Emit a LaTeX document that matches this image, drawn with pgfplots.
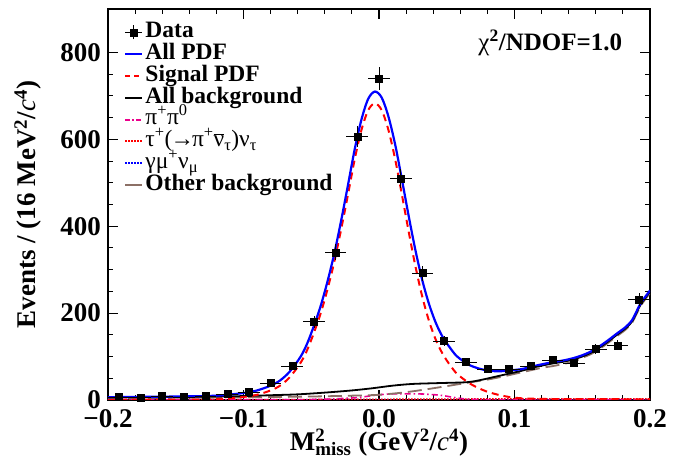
\documentclass[border=0pt]{standalone}
\usepackage{fontspec}
\setmainfont{Liberation Serif}
\usepackage{pgfplots}
\pgfplotsset{compat=1.18}

\definecolor{rootbrown}{rgb}{0.55,0.44,0.40}

% data: bin centre, events, half bin width, sqrt(N)
\pgfplotstableread{
x y ex ey
-0.192 7 0.008 2.6
-0.176 5 0.008 2.2
-0.160 9 0.008 3.0
-0.144 7 0.008 2.6
-0.128 9 0.008 3.0
-0.112 14 0.008 3.7
-0.096 18 0.008 4.2
-0.080 39 0.008 6.2
-0.064 78 0.008 8.8
-0.048 180 0.008 13.4
-0.032 340 0.008 18.4
-0.016 607 0.008 24.6
0.000 740 0.008 27.2
0.016 510 0.008 22.6
0.032 292 0.008 17.1
0.048 136 0.008 11.7
0.064 87 0.008 9.3
0.080 71 0.008 8.4
0.096 71 0.008 8.4
0.112 78 0.008 8.8
0.128 92 0.008 9.6
0.144 85 0.008 9.2
0.160 117 0.008 10.8
0.176 126 0.008 11.2
0.192 232 0.008 15.2
}\datatab

\pgfplotstableread{
x y
-0.200 6.5
-0.150 8
-0.120 10
-0.100 16
-0.090 22
-0.080 33
-0.073 45
-0.066 65
-0.058 99
-0.053 130
-0.048 171
-0.043 217
-0.038 273
-0.033 337
-0.028 412
-0.023 493
-0.018 576
-0.013 645
-0.008 693
-0.003 710
0.002 696
0.007 652
0.012 587
0.017 506
0.022 422
0.027 343
0.032 275
0.037 220
0.042 177
0.047 145
0.052 122
0.057 102
0.062 90
0.067 80
0.073 73
0.080 68
0.088 66
0.096 68
0.105 71
0.113 77
0.120 82
0.128 87
0.136 91
0.143 96
0.150 103
0.156 111
0.161 120
0.168 135
0.176 154
0.182 168
0.187 185
0.193 222
0.200 252
}\allpdf

\pgfplotstableread{
x y
-0.200 0.5
-0.150 0.8
-0.130 1.2
-0.120 2
-0.110 4
-0.100 7
-0.090 12
-0.080 22
-0.073 33
-0.066 52
-0.058 85
-0.053 115
-0.048 155
-0.043 200
-0.038 255
-0.033 318
-0.028 392
-0.023 471
-0.018 553
-0.013 621
-0.008 667
-0.003 683
0.002 667
0.007 621
0.012 553
0.017 471
0.022 386
0.027 306
0.032 237
0.037 181
0.042 138
0.047 106
0.052 82
0.057 62
0.062 49
0.067 38
0.073 28
0.080 19
0.088 12
0.096 7
0.105 4
0.120 2.5
0.150 2
0.200 1.5
}\sigpdf

\pgfplotstableread{
x y
-0.200 6
-0.150 7
-0.100 9
-0.080 11
-0.060 13
-0.040 17
-0.020 22
-0.005 27
0.010 33
0.025 37
0.045 39
0.065 41
0.075 46
0.085 53
0.095 60
0.105 67
0.113 74
0.120 79
0.128 84
0.136 88
0.143 93
0.150 100
0.156 108
0.161 117
0.168 132
0.176 151
0.182 165
0.187 182
0.193 219
0.200 249
}\allbkg

\pgfplotstableread{
x y
-0.200 4
-0.150 5
-0.100 6
-0.050 8
-0.020 10
0.000 12
0.020 18
0.040 27
0.060 37
0.080 47
0.090 53
0.100 60
0.110 67
0.120 74
0.130 79
0.143 88
0.150 97
0.156 105
0.161 114
0.168 129
0.176 148
0.182 162
0.187 179
0.193 216
0.200 246
}\otherbkg

\pgfplotstableread{
x y
-0.200 0.5
-0.080 0.5
-0.050 1
-0.030 3
-0.015 6
0.000 12
0.010 14
0.030 14
0.045 11
0.055 6
0.065 2
0.080 1
0.200 0.5
}\pipizero

\pgfplotstableread{
x y
-0.200 0.5
-0.100 0.8
-0.050 1
0.000 1.5
0.050 2
0.100 2.5
0.150 2.5
0.200 2.5
}\taunu

\pgfplotstableread{
x y
-0.200 0.3
0.000 0.5
0.200 0.8
}\gammamunu

\begin{document}
\begin{tikzpicture}
\begin{axis}[
    scale only axis,
    width=542pt, height=391pt,
    xmin=-0.2, xmax=0.2,
    ymin=0, ymax=900,
    xtick={-0.2,-0.1,0,0.1,0.2},
    xticklabels={−0.2,−0.1,0.0,0.1,0.2},
    ytick={0,200,400,600,800},
    yticklabels={0,200,400,600,800},
    minor x tick num=4,
    minor y tick num=3,
    tick align=inside,
    major tick length=10pt,
    minor tick length=5pt,
    axis line style={line width=1.3pt},
    every tick/.style={black, line width=1.1pt},
    ticklabel style={font=\fontsize{27}{30}\selectfont\bfseries},
    xticklabel style={inner sep=0pt, anchor=north, yshift=-9pt},
    yticklabel style={inner sep=0pt, anchor=east, xshift=-7pt},
    label style={font=\fontsize{27}{30}\selectfont\bfseries},
    xlabel={M\rlap{\textsuperscript{2}}\textsubscript{miss} (GeV\textsuperscript{2}/{\mdseries\itshape c}\textsuperscript{4})},
    xlabel style={at={(axis description cs:0.5,-0.13)}, anchor=base},
    ylabel={Events / (16 MeV\textsuperscript{2}/{\mdseries\itshape c}\textsuperscript{4})},
    ylabel style={at={(axis description cs:-0.1476,0.5)}, anchor=center},
    legend style={
        at={(axis description cs:0.0295,0.968)}, anchor=north west,
        draw=none, fill=none, inner sep=0pt,
        font=\fontsize{23.5}{25}\selectfont\bfseries,
        nodes={inner sep=1pt, text height=15pt, text depth=4.5pt},
        row sep=0.3pt, column sep=1pt,
    },
    legend cell align=left,
]
\addlegendimage{legend image code/.code={
    \draw[black, line width=0.8pt] (0pt,0pt) -- (17pt,0pt) (8.5pt,-7pt) -- (8.5pt,7pt);
    \fill[black] (5pt,-3.5pt) rectangle (12pt,3.5pt);}}
\addlegendentry{Data}
\addlegendimage{blue, line width=2.2pt}
\addlegendentry{All PDF}
\addlegendimage{red, line width=2pt, dash pattern=on 5pt off 4pt}
\addlegendentry{Signal PDF}
\addlegendimage{black, line width=1.8pt}
\addlegendentry{All background}
\addlegendimage{magenta, line width=2pt, dash pattern=on 5pt off 2pt on 1.5pt off 2pt}
\addlegendentry{\mdseries π\textsuperscript{+}π\textsuperscript{0}}
\addlegendimage{red, line width=2pt, dash pattern=on 1.5pt off 1.5pt}
\addlegendentry{\mdseries τ\textsuperscript{+}(\kern-2pt→\kern-2ptπ\textsuperscript{+}$\overline{\hbox{ν}}$\textsubscript{τ})ν\textsubscript{τ}}
\addlegendimage{blue, line width=2pt, dash pattern=on 1.5pt off 1.5pt}
\addlegendentry{\mdseries γμ\textsuperscript{+}ν\textsubscript{μ}}
\addlegendimage{rootbrown, line width=1.8pt}
\addlegendentry{Other background}

\addplot[forget plot, blue, line width=1.6pt, dash pattern=on 1.5pt off 1.5pt] table[x=x,y=y] {\gammamunu};
\addplot[forget plot, red, line width=1.6pt, dash pattern=on 1.5pt off 1.5pt] table[x=x,y=y] {\taunu};
\addplot[forget plot, magenta, line width=1.6pt, smooth, dash pattern=on 6pt off 3pt on 1.5pt off 3pt] table[x=x,y=y] {\pipizero};
\addplot[forget plot, rootbrown, line width=1.8pt, smooth, dash pattern=on 14pt off 6pt] table[x=x,y=y] {\otherbkg};
\addplot[forget plot, black, line width=1.8pt, smooth] table[x=x,y=y] {\allbkg};
\addplot[forget plot, red, line width=2pt, smooth, dash pattern=on 7pt off 5pt] table[x=x,y=y] {\sigpdf};
\addplot[forget plot, blue, line width=2.2pt, smooth] table[x=x,y=y] {\allpdf};
\addplot[forget plot, only marks, mark=square*, mark size=3.5pt, black,
    error bars/.cd, x dir=both, x explicit, y dir=both, y explicit,
    error mark=none, error bar style={black, line width=0.8pt}]
    table[x=x, y=y, x error=ex, y error=ey] {\datatab};

\node[font=\fontsize{25}{27}\selectfont\bfseries, anchor=center]
    at (axis description cs:0.816,0.913) {{\mdseries χ}\textsuperscript{2}/NDOF=1.0};
\end{axis}
\pgfresetboundingbox
\path[use as bounding box] ([shift={(-108pt,-64pt)}]current axis.south west)
    rectangle ([shift={(43pt,9pt)}]current axis.north east);
\end{tikzpicture}
\end{document}
